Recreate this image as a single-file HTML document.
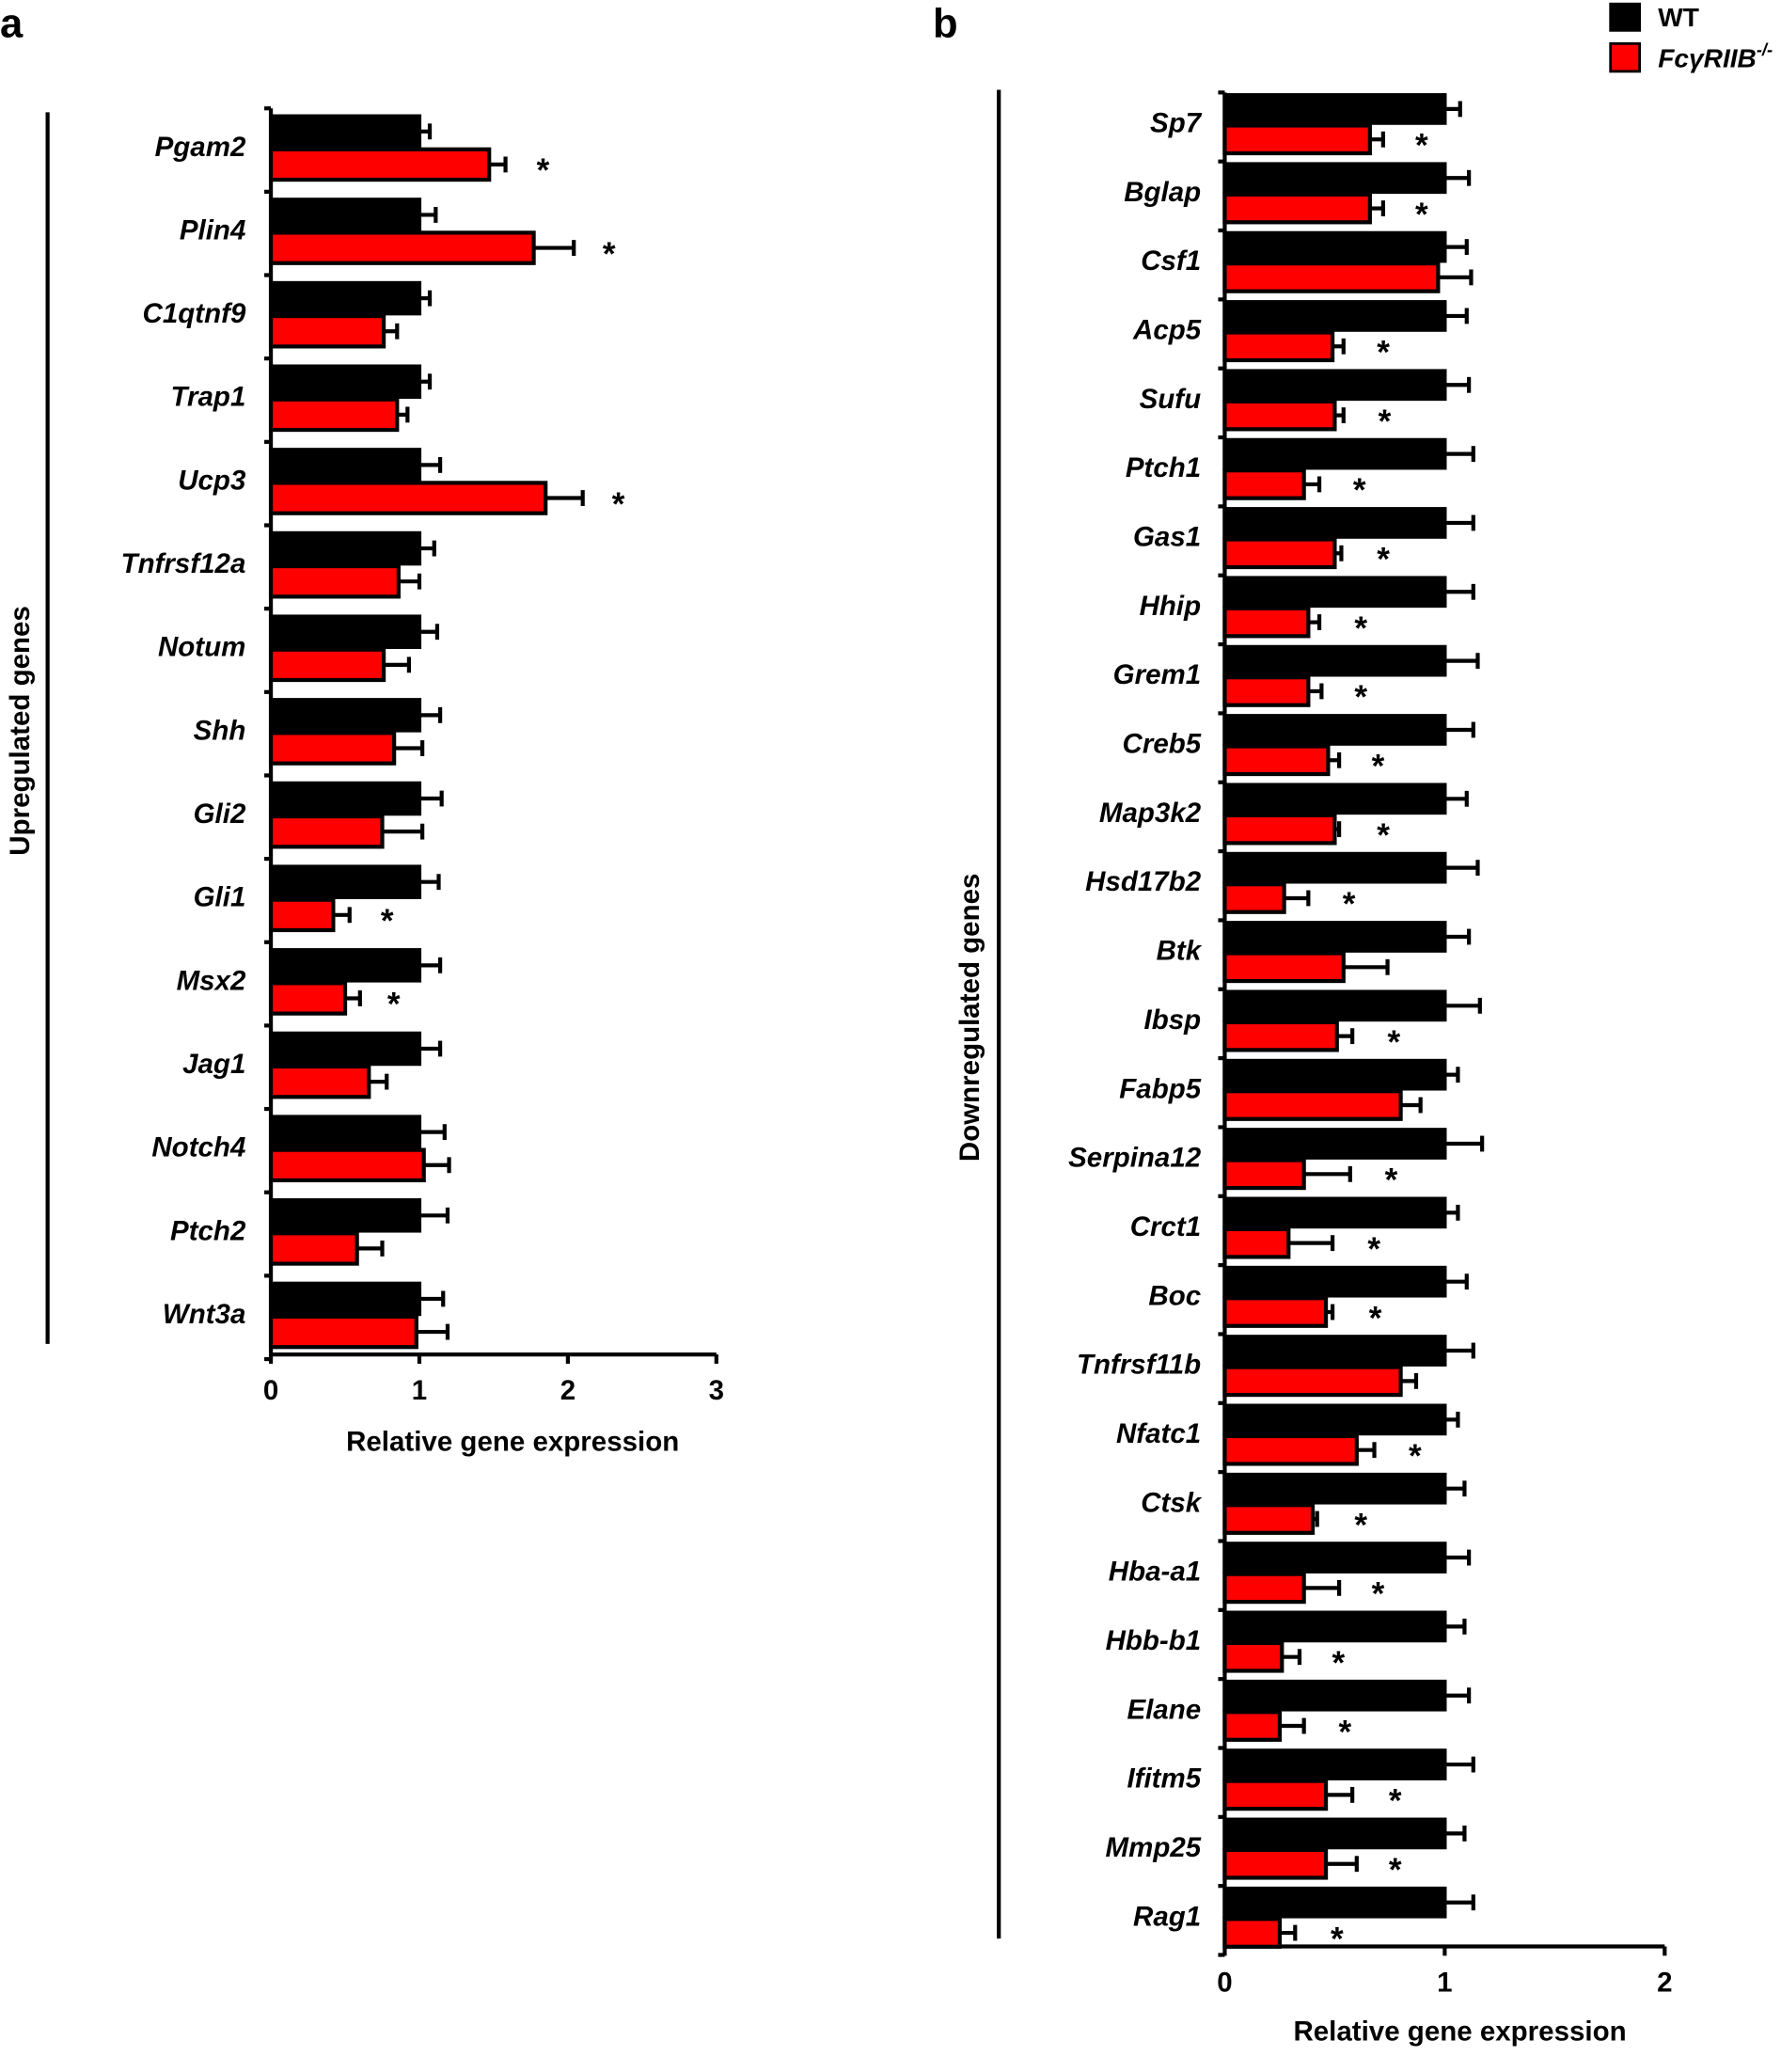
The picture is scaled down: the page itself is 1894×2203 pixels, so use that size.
<!DOCTYPE html>
<html><head><meta charset="utf-8"><style>
html,body{margin:0;padding:0;background:#fff}
svg{display:block}
text{font-family:"Liberation Sans",Arial,sans-serif;font-weight:bold}
</style></head><body>
<svg id="s" width="1894" height="2203" viewBox="0 0 1348 1568" xmlns="http://www.w3.org/2000/svg"></svg>
<script>
const s=document.getElementById('s');let h='';
function T(x,y,t,o){o=o||{};h+=`<text x="${x}" y="${y}" font-size="${o.fs||20}" text-anchor="${o.a||'start'}" ${o.it?'font-style="italic"':''} ${o.tr?'transform="'+o.tr+'"':''}>${t}</text>`;}
function L(x1,y1,x2,y2,w){h+=`<line x1="${x1}" y1="${y1}" x2="${x2}" y2="${y2}" stroke="#000" stroke-width="${w||3}"/>`;}
function R(x,y,w,hh,f){h+=`<rect x="${x}" y="${y}" width="${w}" height="${hh}" fill="${f}" stroke="#000" stroke-width="3"/>`;}
function panel(P){
 const {x0,u,top,step,n,data,bh,lx,ticks,axY}=P;
 L(x0,top,x0,axY);
 for(let k=0;k<=n;k++){L(x0-5,top+step*k,x0,top+step*k,3);}
 L(x0,axY,x0+u*ticks,axY);
 for(let t=0;t<=ticks;t++){L(x0+u*t,axY,x0+u*t,axY+7);T(x0+u*t,axY+34,t,{a:'middle',fs:21});}
 data.forEach((d,k)=>{
  const rt=top+step*k;
  const by=rt+P.bo, ry=by+bh+2;
  L(x0+u*1,by+bh/2,x0+u*d[3],by+bh/2,3);L(x0+u*d[3],by+bh/2-6,x0+u*d[3],by+bh/2+6,3);
  R(x0,by,u*1,bh,'#000');
  L(x0+u*d[1],ry+bh/2,x0+u*d[2],ry+bh/2,3);L(x0+u*d[2],ry+bh/2-6,x0+u*d[2],ry+bh/2+6,3);
  R(x0,ry,u*d[1],bh,'#f00');
  T(lx,by+bh+7,d[0],{a:'end',it:1,fs:21});
  if(d[4])T(d[4],ry+bh/2+13,'*',{a:'middle',fs:25});
 });
}
panel({x0:205,u:112.4,top:82,step:63.1,n:15,bh:23,bo:6,lx:186,ticks:3,axY:1025,data:[
['Pgam2',1.47,1.58,1.07,411],['Plin4',1.77,2.04,1.11,461],['C1qtnf9',.76,.85,1.07],['Trap1',.85,.92,1.07],
['Ucp3',1.85,2.1,1.14,468],['Tnfrsf12a',.86,1.0,1.1],['Notum',.76,.93,1.12],['Shh',.83,1.02,1.14],
['Gli2',.75,1.02,1.15],['Gli1',.42,.53,1.13,293],['Msx2',.5,.6,1.14,298],['Jag1',.66,.78,1.14],
['Notch4',1.03,1.2,1.17],['Ptch2',.58,.75,1.19],['Wnt3a',.98,1.19,1.16]]});
panel({x0:927,u:166.5,top:70,step:52.2,n:27,bh:21,bo:2,lx:909,ticks:2,axY:1473,data:[
['Sp7',.66,.72,1.07,1076],['Bglap',.66,.72,1.11,1076],['Csf1',.97,1.12,1.1],['Acp5',.49,.54,1.1,1047],
['Sufu',.5,.54,1.11,1048],['Ptch1',.36,.43,1.13,1029],['Gas1',.5,.53,1.13,1047],['Hhip',.38,.43,1.13,1030],
['Grem1',.38,.44,1.15,1030],['Creb5',.47,.52,1.13,1043],['Map3k2',.5,.52,1.1,1047],['Hsd17b2',.27,.38,1.15,1021],
['Btk',.54,.74,1.11],['Ibsp',.51,.58,1.16,1055],['Fabp5',.8,.89,1.06],['Serpina12',.36,.57,1.17,1053],
['Crct1',.29,.49,1.06,1040],['Boc',.46,.49,1.1,1041],['Tnfrsf11b',.8,.87,1.13],['Nfatc1',.6,.68,1.06,1071],
['Ctsk',.4,.42,1.09,1030],['Hba-a1',.36,.52,1.11,1043],['Hbb-b1',.26,.34,1.09,1013],['Elane',.25,.36,1.11,1018],
['Ifitm5',.46,.58,1.13,1056],['Mmp25',.46,.6,1.09,1056],['Rag1',.25,.32,1.13,1012]]});
L(36,85,36,1017,3);L(756,68,756,1467,3);
T(22,553,'Upregulated genes',{a:'middle',fs:21,tr:'rotate(-90 22 553)'});
T(741,770,'Downregulated genes',{a:'middle',fs:21,tr:'rotate(-90 741 770)'});
T(388,1098,'Relative gene expression',{a:'middle',fs:21});
T(1105,1544,'Relative gene expression',{a:'middle',fs:21});
T(0,28,'a',{fs:31});T(706,28,'b',{fs:31});
h+='<rect x="1218" y="2" width="24" height="22" fill="#000"/>';
h+='<rect x="1219" y="33" width="22" height="21" fill="#f00" stroke="#000" stroke-width="2"/>';
T(1255,20,'WT',{fs:20});
h+='<text x="1255" y="51" font-size="20" font-style="italic">FcγRIIB<tspan font-size="13" dy="-9">-/-</tspan></text>';
s.innerHTML=h;
</script>
</body></html>
